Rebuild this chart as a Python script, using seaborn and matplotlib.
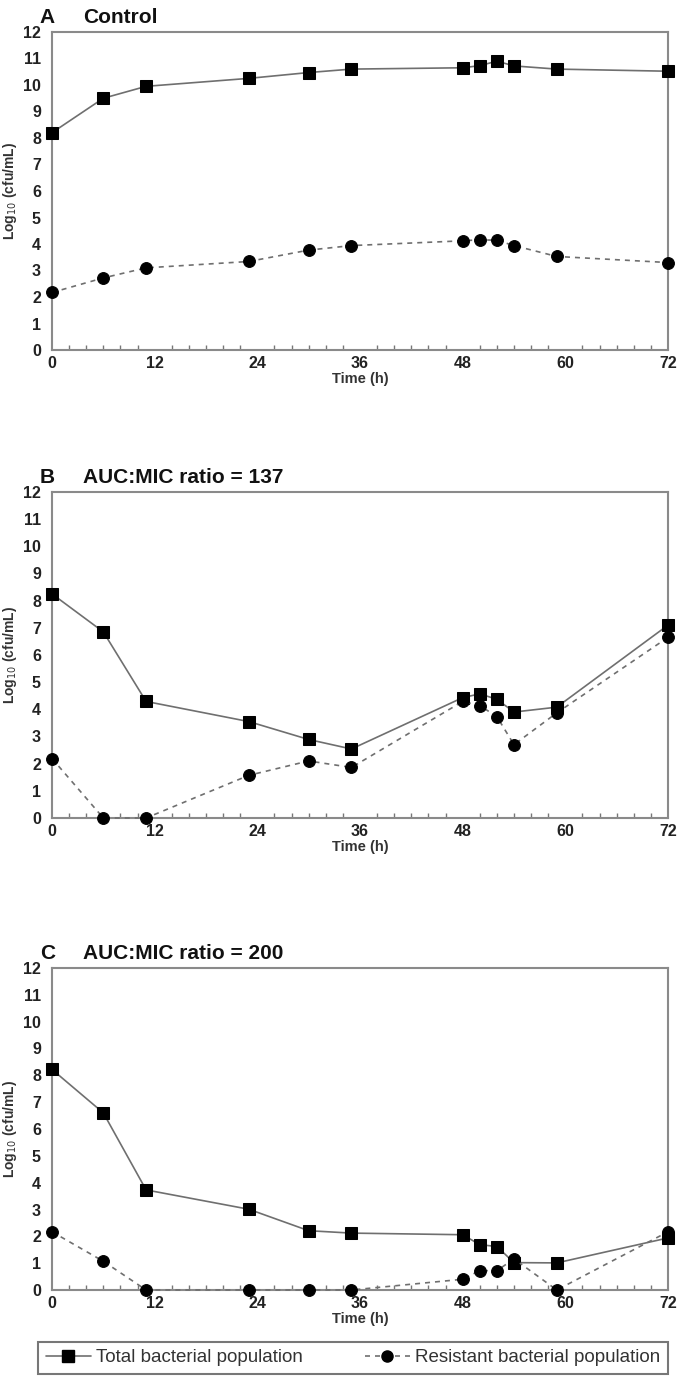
import numpy as np
import pandas as pd
import matplotlib
matplotlib.use("Agg")
import matplotlib.pyplot as plt
from matplotlib.ticker import MultipleLocator
from matplotlib.lines import Line2D
import seaborn as sns

# sampling times (h)
times = [0, 6, 11, 23, 30, 35, 48, 50, 52, 54, 59, 72]

panel_titles = ["A    Control", "B    AUC:MIC ratio = 137", "C    AUC:MIC ratio = 200"]

# Log10 (cfu/mL)
total_a = [8.2, 9.5, 9.95, 10.25, 10.47, 10.6, 10.65, 10.73, 10.9, 10.72, 10.6, 10.52]
resist_a = [2.17, 2.72, 3.1, 3.34, 3.77, 3.94, 4.12, 4.16, 4.14, 3.94, 3.53, 3.3]

total_b = [8.25, 6.85, 4.29, 3.55, 2.89, 2.54, 4.43, 4.57, 4.37, 3.9, 4.08, 7.1]
resist_b = [2.19, 0.0, 0.0, 1.57, 2.1, 1.86, 4.29, 4.14, 3.73, 2.7, 3.87, 6.65]

total_c = [8.22, 6.6, 3.73, 3.01, 2.21, 2.12, 2.06, 1.69, 1.62, 1.02, 1.01, 1.94]
resist_c = [2.17, 1.07, 0.0, 0.0, 0.0, 0.0, 0.4, 0.72, 0.72, 1.16, 0.0, 2.17]

series_labels = ["Total bacterial population", "Resistant bacterial population"]

frames = []
for title, tot, res in zip(panel_titles, [total_a, total_b, total_c], [resist_a, resist_b, resist_c]):
    frames.append(pd.DataFrame({"panel": title, "series": series_labels[0], "time": times, "value": tot}))
    frames.append(pd.DataFrame({"panel": title, "series": series_labels[1], "time": times, "value": res}))
df = pd.concat(frames, ignore_index=True)

sns.set_theme(style="white")
plt.rcParams["font.family"] = ["Liberation Sans", "DejaVu Sans"]

fig = plt.figure(figsize=(6.8, 13.78), dpi=100)
H = 1378.0
W = 680.0
# (top, bottom) of each axes in pixels
boxes = [(32, 350), (492, 818), (968, 1290)]
line_col = "#6f6f6f"
spine_col = "#8a8a8a"

for title, (top, bot) in zip(panel_titles, boxes):
    ax = fig.add_axes([52 / W, 1 - bot / H, 616 / W, (bot - top) / H])
    sub = df[df["panel"] == title]
    sns.lineplot(data=sub[sub["series"] == series_labels[0]], x="time", y="value", ax=ax,
                 color=line_col, linewidth=1.2, marker="s", markersize=8.5,
                 markerfacecolor="black", markeredgecolor="black", clip_on=False, zorder=3)
    sns.lineplot(data=sub[sub["series"] == series_labels[1]], x="time", y="value", ax=ax,
                 color=line_col, linewidth=1.2, linestyle=(0, (3, 3)), marker="o", markersize=8.5,
                 markerfacecolor="black", markeredgecolor="black", clip_on=False, zorder=3)
    ax.set_xlim(0, 72)
    ax.set_ylim(0, 12)
    ax.xaxis.set_major_locator(MultipleLocator(12))
    ax.xaxis.set_minor_locator(MultipleLocator(2))
    ax.yaxis.set_major_locator(MultipleLocator(1))
    ax.tick_params(axis="both", which="major", direction="in", length=5, width=1.2, color="#666666",
                   labelsize=11.5)
    ax.tick_params(axis="y", which="major", pad=8)
    ax.tick_params(axis="x", which="major", pad=4)
    ax.tick_params(axis="x", which="minor", direction="in", length=3.5, width=1, color="#777777", bottom=True)
    for lab in ax.get_xticklabels() + ax.get_yticklabels():
        lab.set_fontweight("bold")
        lab.set_color("#222222")
    for sp in ax.spines.values():
        sp.set_color(spine_col)
        sp.set_linewidth(1.5)
        sp.set_visible(True)
    ax.set_xlabel("Time (h)", fontsize=10.5, fontweight="bold", color="#333333", labelpad=1)
    ax.set_ylabel("Log$_{10}$ (cfu/mL)", fontsize=10, fontweight="bold", color="#333333", labelpad=3)
    letter, rest = title.split("    ")
    ax.text(-0.02, 1.015, letter, transform=ax.transAxes, fontsize=15, fontweight="bold",
            ha="left", va="bottom", color="#111111")
    ax.text(0.05, 1.015, rest, transform=ax.transAxes, fontsize=15, fontweight="bold",
            ha="left", va="bottom", color="#111111")
    if ax.get_legend() is not None:
        ax.get_legend().remove()

handles = [
    Line2D([], [], color=line_col, linewidth=1.2, marker="s", markersize=8,
           markerfacecolor="black", markeredgecolor="black"),
    Line2D([], [], color=line_col, linewidth=1.2, linestyle=(0, (3, 3)), marker="o", markersize=8,
           markerfacecolor="black", markeredgecolor="black"),
]
leg = fig.legend(handles, series_labels, loc="lower left",
                 bbox_to_anchor=(38 / W, 1 - 1374 / H, 630 / W, 36 / H), mode="expand",
                 ncol=2, frameon=True, fancybox=False, fontsize=13.5, handlelength=2.4,
                 handletextpad=0.3, columnspacing=1.5, borderaxespad=0, borderpad=0.4)
leg.get_frame().set_edgecolor("#555555")
leg.get_frame().set_linewidth(1.5)
for t in leg.get_texts():
    t.set_color("#333333")

fig.savefig("out.png", dpi=100)
